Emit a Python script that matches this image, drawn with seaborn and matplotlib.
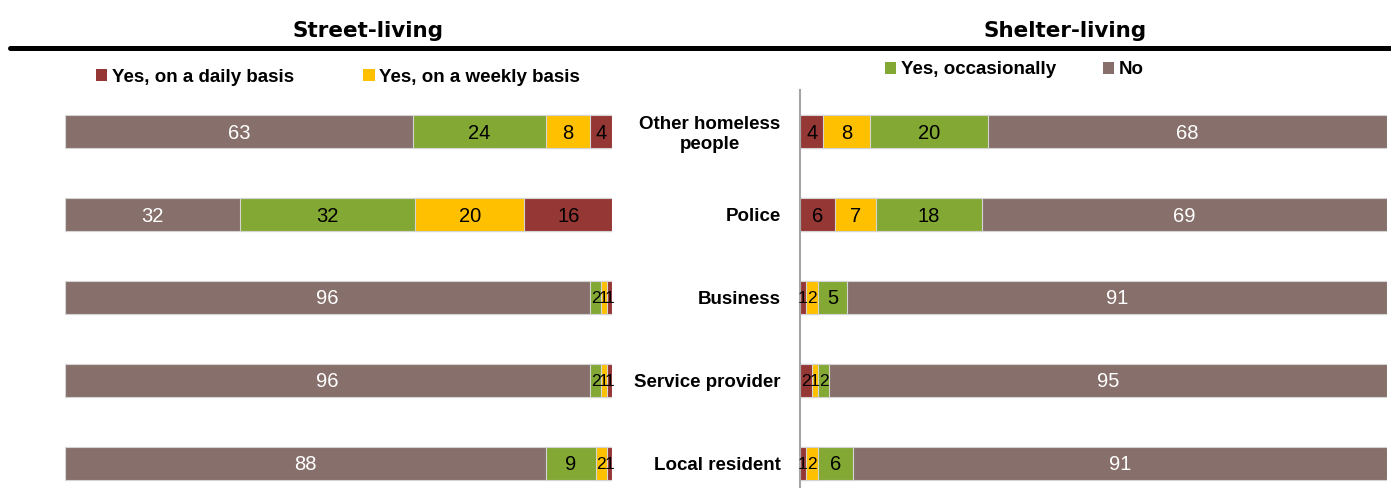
import numpy as np
import pandas as pd
import matplotlib.pyplot as plt
import seaborn as sns
from matplotlib.lines import Line2D
from matplotlib.patches import Patch

# Data (percent of respondents)
categories = ["Other homeless\npeople", "Police", "Business", "Service provider", "Local resident"]
series = ["Yes, on a daily basis", "Yes, on a weekly basis", "Yes, occasionally", "No"]
colors = ["#953735", "#FFC000", "#83A834", "#87706B"]

street_daily = [4, 16, 1, 1, 1]
street_weekly = [8, 20, 1, 1, 2]
street_occ = [24, 32, 2, 2, 9]
street_no = [63, 32, 96, 96, 88]

shelter_daily = [4, 6, 1, 2, 1]
shelter_weekly = [8, 7, 2, 1, 2]
shelter_occ = [20, 18, 5, 2, 6]
shelter_no = [68, 69, 91, 95, 91]

sns.set_theme(style="white")
plt.rcParams["font.family"] = ["Liberation Sans", "DejaVu Sans"]
plt.rcParams["text.color"] = "black"
plt.rcParams["ytick.color"] = "black"

fig = plt.figure(figsize=(13.91, 4.88), dpi=100)
W, H = 1391, 488
ax_l = fig.add_axes([65 / W, 0, 547 / W, 1 - 90 / H])
ax_r = fig.add_axes([800 / W, 0, 587 / W, 1 - 90 / H])


def draw_panel(ax, cols):
    df = pd.DataFrame(dict(zip(series, cols)), index=categories)
    pct = df.div(df.sum(axis=1), axis=0) * 100
    cum = pct.cumsum(axis=1)
    # draw cumulative bars from longest to shortest so they stack visually
    for s, c in reversed(list(zip(series, colors))):
        sns.barplot(x=cum[s].values, y=categories, orient="h", color=c,
                    width=0.4, edgecolor="#d4d4d4", linewidth=0.8,
                    saturation=1, ax=ax)
    # segment labels
    for i, cat in enumerate(categories):
        start = 0
        for s in series:
            v = pct.loc[cat, s]
            txt_color = "white" if s == "No" else "black"
            size = 14.5 if v >= 3 else 12.5
            ax.text(start + v / 2, i + 0.02, f"{df.loc[cat, s]}", ha="center", va="center",
                    fontsize=size, color=txt_color)
            start += v
    ax.set_ylim(4.30, -0.5)
    ax.set_xlabel("")
    ax.set_ylabel("")
    ax.set_xticks([])
    for sp in ax.spines.values():
        sp.set_visible(False)


draw_panel(ax_l, [street_daily, street_weekly, street_occ, street_no])
ax_l.set_xlim(100, 0)
ax_l.set_yticks([])

draw_panel(ax_r, [shelter_daily, shelter_weekly, shelter_occ, shelter_no])
ax_r.set_xlim(0, 100)
ax_r.spines["left"].set_visible(True)
ax_r.spines["left"].set_color("#a6a6a6")
ax_r.spines["left"].set_linewidth(1.5)
ax_r.tick_params(axis="y", length=0, pad=14)
ax_r.set_yticks(range(len(categories)))
ax_r.set_yticklabels(categories, fontsize=13.5, fontweight="bold", color="black")
for lbl in ax_r.get_yticklabels():
    lbl.set_multialignment("center")

# Titles and rule
fig.text(368 / W, 1 - 31 / H, "Street-living", ha="center", va="center",
         fontsize=15.5, fontweight="bold", family="DejaVu Sans", color="black")
fig.text(1065 / W, 1 - 31 / H, "Shelter-living", ha="center", va="center",
         fontsize=15.5, fontweight="bold", family="DejaVu Sans", color="black")
fig.add_artist(Line2D([10 / W, 1], [1 - 48 / H, 1 - 48 / H], lw=3.6, color="black"))

# Legends
handles = [Patch(facecolor=c, edgecolor="none") for c in colors]
leg_kw = dict(frameon=False, loc="center left", handlelength=0.6, handleheight=0.6,
              handletextpad=0.25, borderpad=0, borderaxespad=0,
              prop={"size": 13.5, "weight": "bold"}, labelcolor="black")
fig.legend(handles[:2], series[:2], ncol=2, columnspacing=3.7,
           bbox_to_anchor=(96 / W, 1 - 77 / H), **leg_kw)
fig.legend(handles[2:], series[2:], ncol=2, columnspacing=2.5,
           bbox_to_anchor=(885 / W, 1 - 70 / H), **leg_kw)

fig.savefig("out.png", dpi=100)
